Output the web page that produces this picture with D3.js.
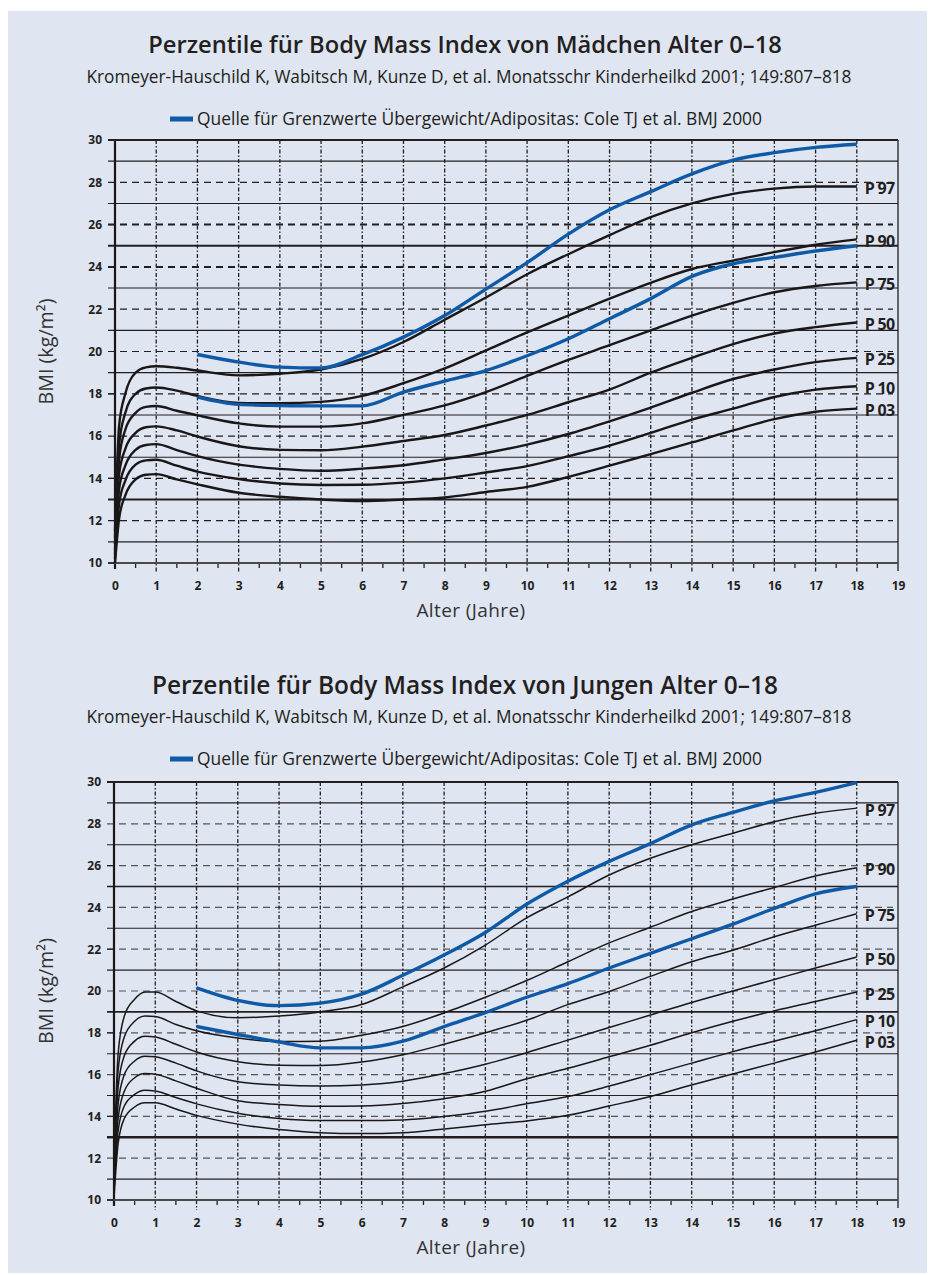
<!DOCTYPE html>
<html>
<head>
<meta charset="utf-8">
<script src="https://cdn.jsdelivr.net/npm/d3@7"></script>
<style>
body { margin: 0; background: #fff; }
svg { display: block; font-family: "Open Sans", sans-serif; }
</style>
</head>
<body>
<svg id="page" width="930" height="1275"></svg>
<script>
//Data
const ages = [0, 0.1, 0.25, 0.5, 0.75, 1, 1.5, 2, 3, 4, 5, 6, 7, 8, 9, 10, 11, 12, 13, 14, 15, 16, 17, 18];

const girlsP03 = [10.0, 12.1, 13.2, 13.95, 14.17, 14.2, 13.95, 13.72, 13.32, 13.13, 13.0, 12.93, 13.0, 13.1, 13.36, 13.6, 14.07, 14.6, 15.15, 15.7, 16.27, 16.8, 17.15, 17.3];
const girlsP10 = [10.2, 12.8, 13.9, 14.65, 14.85, 14.88, 14.6, 14.32, 13.97, 13.76, 13.69, 13.7, 13.8, 14.0, 14.28, 14.58, 15.05, 15.55, 16.15, 16.78, 17.3, 17.85, 18.2, 18.36];
const girlsP25 = [10.4, 13.5, 14.6, 15.35, 15.58, 15.62, 15.34, 15.05, 14.65, 14.45, 14.36, 14.46, 14.62, 14.9, 15.2, 15.6, 16.1, 16.7, 17.35, 18.05, 18.7, 19.15, 19.5, 19.7];
const girlsP50 = [10.6, 14.2, 15.4, 16.15, 16.42, 16.46, 16.27, 15.98, 15.52, 15.35, 15.33, 15.5, 15.77, 16.05, 16.5, 17.0, 17.6, 18.2, 19.0, 19.7, 20.35, 20.85, 21.15, 21.37];
const girlsP75 = [10.9, 14.9, 16.3, 17.1, 17.38, 17.42, 17.2, 16.98, 16.6, 16.45, 16.45, 16.6, 17.0, 17.45, 18.08, 18.85, 19.6, 20.3, 21.0, 21.7, 22.3, 22.8, 23.1, 23.27];
const girlsP90 = [11.2, 15.6, 17.1, 18.0, 18.25, 18.3, 18.15, 17.9, 17.57, 17.55, 17.62, 17.9, 18.5, 19.2, 20.05, 20.9, 21.7, 22.5, 23.25, 23.9, 24.3, 24.7, 25.05, 25.3];
const girlsP97 = [11.5, 16.5, 18.0, 19.0, 19.25, 19.3, 19.23, 19.1, 18.87, 18.95, 19.15, 19.65, 20.45, 21.5, 22.55, 23.65, 24.6, 25.5, 26.35, 27.0, 27.45, 27.7, 27.8, 27.8];

const boysP03 = [10.1, 12.7, 13.9, 14.45, 14.65, 14.65, 14.35, 14.05, 13.63, 13.37, 13.22, 13.18, 13.22, 13.4, 13.6, 13.78, 14.05, 14.5, 14.95, 15.5, 16.03, 16.55, 17.08, 17.64];
const boysP10 = [10.4, 13.3, 14.5, 15.05, 15.25, 15.22, 14.9, 14.6, 14.15, 13.9, 13.8, 13.8, 13.83, 14.0, 14.25, 14.6, 14.95, 15.45, 16.0, 16.55, 17.1, 17.6, 18.1, 18.63];
const boysP25 = [10.6, 13.9, 15.2, 15.85, 16.05, 16.02, 15.7, 15.35, 14.75, 14.57, 14.48, 14.5, 14.62, 14.85, 15.2, 15.8, 16.3, 16.85, 17.4, 18.0, 18.55, 19.05, 19.5, 19.95];
const boysP50 = [10.9, 14.6, 16.0, 16.65, 16.88, 16.85, 16.55, 16.18, 15.66, 15.5, 15.45, 15.5, 15.68, 16.05, 16.5, 17.05, 17.65, 18.25, 18.85, 19.45, 20.0, 20.55, 21.1, 21.62];
const boysP75 = [11.2, 15.4, 16.9, 17.6, 17.83, 17.8, 17.45, 17.08, 16.62, 16.45, 16.43, 16.6, 16.95, 17.45, 18.0, 18.6, 19.35, 19.98, 20.7, 21.4, 21.95, 22.6, 23.15, 23.7];
const boysP90 = [11.5, 16.2, 17.8, 18.55, 18.8, 18.78, 18.4, 18.1, 17.75, 17.58, 17.6, 17.88, 18.3, 18.95, 19.7, 20.5, 21.4, 22.3, 23.05, 23.8, 24.4, 24.95, 25.5, 25.9];
const boysP97 = [11.8, 17.0, 18.8, 19.6, 19.95, 19.95, 19.5, 19.05, 18.72, 18.8, 19.0, 19.35, 20.2, 21.1, 22.2, 23.5, 24.5, 25.55, 26.35, 27.0, 27.55, 28.1, 28.5, 28.75];

//Cole cut-offs (blue lines)
const cutAges = [2, 3, 4, 5, 6, 7, 8, 9, 10, 11, 12, 13, 14, 15, 16, 17, 18];
const girlsOver = [17.84, 17.5, 17.45, 17.43, 17.43, 18.08, 18.6, 19.1, 19.8, 20.6, 21.55, 22.5, 23.55, 24.15, 24.45, 24.75, 25.0];
const girlsObese = [19.86, 19.5, 19.26, 19.22, 19.85, 20.68, 21.7, 22.95, 24.2, 25.55, 26.7, 27.56, 28.4, 29.05, 29.4, 29.65, 29.8];
const boysOver = [18.3, 17.92, 17.56, 17.28, 17.28, 17.6, 18.3, 18.97, 19.7, 20.35, 21.1, 21.8, 22.5, 23.2, 23.95, 24.65, 25.0];
const boysObese = [20.15, 19.55, 19.3, 19.42, 19.85, 20.75, 21.72, 22.8, 24.15, 25.25, 26.2, 27.05, 27.95, 28.55, 29.1, 29.5, 29.97];

const pctLabels = ["P 03", "P 10", "P 25", "P 50", "P 75", "P 90", "P 97"];
const xTicks = [0, 1, 2, 3, 4, 5, 6, 7, 8, 9, 10, 11, 12, 13, 14, 15, 16, 17, 18, 19];
const yTicks = [10, 12, 14, 16, 18, 20, 22, 24, 26, 28, 30];

const subText = "Kromeyer-Hauschild K, Wabitsch M, Kunze D, et al. Monatsschr Kinderheilkd 2001; 149:807\u2013818";
const legendText = "Quelle f\u00fcr Grenzwerte \u00dcbergewicht/Adipositas: Cole TJ et al. BMJ 2000";

const blue = "#0f5aa6";

//Functions
let svg = d3.select("#page");

//scale font size so a text gets the wanted width
let fitText = function(sel, w) {
	let len = sel.node().getComputedTextLength();
	let fs = parseFloat(sel.attr("font-size"));
	sel.attr("font-size", (fs * w / len).toFixed(2));
}

let drawChart = function(opt) {
	let g = svg.append("g");
	let x = d3.scaleLinear().domain([0, 19]).range([opt.left, opt.right]);
	let y = d3.scaleLinear().domain([10, 30]).range([opt.bottom, opt.top]);

	//headings
	let t = g.append("text").text(opt.title)
		.attr("x", 465).attr("y", opt.titleY).attr("dy", "0.35em")
		.attr("text-anchor", "middle").attr("font-size", 19).attr("font-weight", 600)
		.attr("fill", "#231f20");
	fitText(t, opt.titleW);
	let s = g.append("text").text(subText)
		.attr("x", 469).attr("y", opt.titleY + 32).attr("dy", "0.35em")
		.attr("text-anchor", "middle").attr("font-size", 15).attr("fill", "#231f20");
	fitText(s, 765);
	g.append("line")
		.attr("x1", 170).attr("x2", 193)
		.attr("y1", opt.titleY + 74).attr("y2", opt.titleY + 74)
		.attr("stroke", blue).attr("stroke-width", 5);
	let l = g.append("text").text(legendText)
		.attr("x", 197).attr("y", opt.titleY + 74).attr("dy", "0.35em")
		.attr("font-size", 15).attr("fill", "#231f20");
	fitText(l, 565);

	//horizontal grid
	let hVals = d3.range(11, 30);
	g.selectAll(".hgrid")
		.data(hVals)
		.enter()
		.append("line")
		.attr("x1", opt.left - 7)
		.attr("x2", d => d % 2 ? opt.right : opt.right - 5)
		.attr("y1", d => y(d)).attr("y2", d => y(d))
		.attr("stroke", d => d % 2 ? "#231f20" : opt.dashColor)
		.attr("stroke-width", d => opt.bold[d] || (d % 2 ? 1.1 : 1.2))
		.attr("stroke-dasharray", d => d % 2 ? null : "7,5");

	//vertical grid
	g.selectAll(".vgrid")
		.data(d3.range(1, 19))
		.enter()
		.append("line")
		.attr("x1", d => x(d)).attr("x2", d => x(d))
		.attr("y1", y(30)).attr("y2", y(10) + 10)
		.attr("stroke", "#231f20").attr("stroke-width", 1.3)
		.attr("stroke-dasharray", "4,2,1.5,2");

	//half year ticks
	g.selectAll(".htick")
		.data(d3.range(0.5, 19, 1))
		.enter()
		.append("line")
		.attr("x1", d => x(d)).attr("x2", d => x(d))
		.attr("y1", y(10)).attr("y2", y(10) + 5)
		.attr("stroke", "#231f20").attr("stroke-width", 1.3);

	//frame
	g.append("line").attr("x1", opt.left).attr("x2", opt.left)
		.attr("y1", y(30)).attr("y2", y(10) + 6)
		.attr("stroke", "#1a1718").attr("stroke-width", 2.2);
	g.append("line").attr("x1", opt.right).attr("x2", opt.right)
		.attr("y1", y(30)).attr("y2", y(10) + 8)
		.attr("stroke", "#231f20").attr("stroke-width", 1.3);
	g.append("line").attr("x1", opt.left - 7).attr("x2", opt.right)
		.attr("y1", y(30)).attr("y2", y(30))
		.attr("stroke", "#231f20").attr("stroke-width", 2);
	g.append("line").attr("x1", opt.left - 7).attr("x2", opt.right)
		.attr("y1", y(10)).attr("y2", y(10))
		.attr("stroke", "#4a4a4a").attr("stroke-width", 1.8);
	g.selectAll(".ytick")
		.data(yTicks.filter(d => d % 4 == 2))
		.enter()
		.append("line")
		.attr("x1", opt.left - 7).attr("x2", opt.left)
		.attr("y1", d => y(d)).attr("y2", d => y(d))
		.attr("stroke", "#231f20").attr("stroke-width", 1.2);

	//axes labels
	let yAxis = g.append("g")
		.attr("transform", "translate(" + opt.left + ",0)")
		.call(d3.axisLeft(y).tickValues(yTicks).tickSize(0).tickPadding(13));
	let xAxis = g.append("g")
		.attr("transform", "translate(0," + y(10) + ")")
		.call(d3.axisBottom(x).tickValues(xTicks).tickSize(0).tickPadding(18));
	[yAxis, xAxis].forEach(function(a) {
		a.select(".domain").remove();
		a.selectAll("text")
			.attr("font-family", "'Open Sans', sans-serif")
			.attr("font-size", 12).attr("font-weight", 700)
			.attr("fill", "#231f20");
	});

	g.append("text").text("Alter (Jahre)")
		.attr("x", 471).attr("y", y(10) + 47).attr("dy", "0.35em")
		.attr("text-anchor", "middle").attr("font-size", 19)
		.attr("letter-spacing", 0.4).attr("fill", "#333");
	let yl = g.append("text").text("BMI (kg/m\u00b2)")
		.attr("transform", "translate(46," + y(20) + ") rotate(-90)")
		.attr("dy", "0.35em")
		.attr("text-anchor", "middle").attr("font-size", 18).attr("fill", "#333");
	fitText(yl, 106);

	//percentile curves
	let line = d3.line()
		.x(d => x(d[0]))
		.y(d => y(d[1]))
		.curve(d3.curveMonotoneX);

	opt.series.forEach(function(vals, i) {
		let pts = ages.map((a, j) => [a, vals[j]]);
		g.append("path")
			.attr("d", line(pts))
			.attr("fill", "none")
			.attr("stroke", "#1a1718")
			.attr("stroke-width", opt.curveW)
			.attr("stroke-linejoin", "round");
		g.append("text").text(pctLabels[i])
			.attr("x", x(18) + 8)
			.attr("y", y(vals[vals.length - 1]) + 2)
			.attr("dy", "0.35em")
			.attr("font-size", 16).attr("font-weight", 700)
			.attr("letter-spacing", -0.7)
			.attr("fill", "#231f20");
	});

	opt.cuts.forEach(function(vals) {
		let pts = cutAges.map((a, j) => [a, vals[j]]);
		g.append("path")
			.attr("d", line(pts))
			.attr("fill", "none")
			.attr("stroke", blue)
			.attr("stroke-width", 3.4)
			.attr("stroke-linecap", "butt");
	});
}

//Scripted code
svg.append("rect")
	.attr("x", 8).attr("y", 11)
	.attr("width", 919).attr("height", 1262)
	.attr("fill", "#dfe5f1");

drawChart({
	title: "Perzentile f\u00fcr Body Mass Index von M\u00e4dchen Alter 0\u201318",
	titleY: 45, titleW: 634,
	left: 115, right: 898, top: 140, bottom: 563,
	dashColor: "#231f20",
	bold: {13: 2, 25: 2, 24: 2, 26: 2},
	curveW: 2.4,
	series: [girlsP03, girlsP10, girlsP25, girlsP50, girlsP75, girlsP90, girlsP97],
	cuts: [girlsOver, girlsObese]
});

drawChart({
	title: "Perzentile f\u00fcr Body Mass Index von Jungen Alter 0\u201318",
	titleY: 685, titleW: 626,
	left: 114, right: 898, top: 782, bottom: 1200,
	dashColor: "#555",
	bold: {13: 2.4, 19: 1.6, 25: 1.4, 21: 1.4},
	curveW: 1.5,
	series: [boysP03, boysP10, boysP25, boysP50, boysP75, boysP90, boysP97],
	cuts: [boysOver, boysObese]
});
</script>
</body>
</html>
